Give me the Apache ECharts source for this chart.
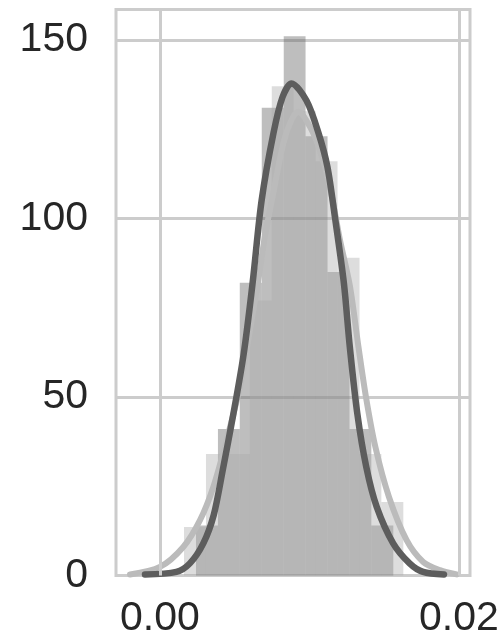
<!DOCTYPE html>
<html><head><meta charset="utf-8">
<script src="https://cdn.jsdelivr.net/npm/echarts@6/dist/echarts.min.js"></script>
<style>html,body{margin:0;padding:0;background:#fff}#c{width:502px;height:642px}</style>
</head><body><div id="c"></div>
<script>
// tick labels
const xTicks = [0.00, 0.02];
const yTicks = [0, 50, 100, 150];

// dark histogram: bin edges and density heights
const darkEdges = [0.00241, 0.00388, 0.00534, 0.00681, 0.00828, 0.00974, 0.01121, 0.01268, 0.01414, 0.01561];
const darkHeights = [14, 41, 82, 131, 151, 123, 85, 41, 14];

// light histogram: bin edges and density heights
const lightEdges = [0.00161, 0.00308, 0.00454, 0.00601, 0.00748, 0.00894, 0.01041, 0.01188, 0.01335, 0.01481, 0.01628];
const lightHeights = [13.6, 34, 34, 77, 137, 130, 116, 89, 34, 20.6];

// KDE curves
const darkKdeX = [-0.0010, 0.0011, 0.0020, 0.0029, 0.0036, 0.0042, 0.0049, 0.0056, 0.0062, 0.0068, 0.0076, 0.0082, 0.0088, 0.0098, 0.0106, 0.0112, 0.0117, 0.0123, 0.0127, 0.0132, 0.0138, 0.0145, 0.0156, 0.0167, 0.0176, 0.0190];
const darkKdeY = [0.3, 1.0, 3.4, 9, 17, 29.5, 45, 62, 82, 105, 124, 134, 137.8, 133, 124, 114.5, 100.5, 82, 64, 45.4, 30.4, 19.2, 9, 3.4, 1.0, 0.3];
const lightKdeX = [-0.0020, 0.0000, 0.00156, 0.00268, 0.00357, 0.00446, 0.00535, 0.00602, 0.00658, 0.00702, 0.00758, 0.00825, 0.00881, 0.00925, 0.01003, 0.0107, 0.01137, 0.01204, 0.01271, 0.01328, 0.01378, 0.01441, 0.01532, 0.0165, 0.01761, 0.01873, 0.01985];
const lightKdeY = [0.3, 2.4, 8, 15.5, 24.8, 37.9, 52.8, 68.7, 82.7, 95, 107, 121, 127.7, 129.9, 125.7, 119, 108.8, 94, 81, 64, 50, 36, 22, 9.9, 3.8, 1.5, 0.3];

const DARK = '#5d5d5d';
const LIGHT = '#bbbbbb';
const GRID = '#cccccc';
const TEXT = '#262626';
const FONT = 'Liberation Sans';

function bins(edges, heights) {
  return heights.map((h, i) => [edges[i], edges[i + 1], h]);
}
function pairs(xs, ys) { return xs.map((x, i) => [x, ys[i]]); }

function histItem(color) {
  return function (params, api) {
    const p0 = api.coord([api.value(0), api.value(2)]);
    const p1 = api.coord([api.value(1), 0]);
    return {
      type: 'rect',
      shape: { x: p0[0], y: p0[1], width: p1[0] - p0[0], height: p1[1] - p0[1] },
      style: { fill: color, opacity: 0.4 }
    };
  };
}

const chart = echarts.init(document.getElementById('c'), null, { renderer: 'canvas' });
chart.setOption({
  animation: false,
  backgroundColor: '#ffffff',
  grid: { left: 116, right: 32, top: 9.5, bottom: 66.5, show: true, borderColor: GRID, borderWidth: 3, backgroundColor: 'transparent' },
  xAxis: {
    type: 'value', min: -0.00294, max: 0.02074,
    axisLine: { show: false }, axisTick: { show: false }, splitLine: { show: false },
    axisLabel: { customValues: xTicks, formatter: v => v.toFixed(2), fontSize: 41, fontFamily: FONT, color: TEXT, margin: 23 }
  },
  yAxis: {
    type: 'value', min: 0, max: 158.5, interval: 50,
    axisLine: { show: false }, axisTick: { show: false },
    splitLine: { show: true, lineStyle: { color: GRID, width: 3 } },
    axisLabel: { showMaxLabel: false, formatter: v => (yTicks.indexOf(v) >= 0 ? String(v) : ''), fontSize: 41, fontFamily: FONT, color: TEXT, margin: 28 }
  },
  series: [
    {
      type: 'line', data: [], z: 1, silent: true,
      markLine: {
        silent: true, symbol: ['none', 'none'], animation: false,
        label: { show: false },
        lineStyle: { color: GRID, width: 3, type: 'solid' },
        data: xTicks.map(v => ({ xAxis: v }))
      }
    },
    { type: 'custom', z: 2, renderItem: histItem(DARK), data: bins(darkEdges, darkHeights), encode: { x: [0, 1], y: 2 }, silent: true },
    { type: 'custom', z: 2, renderItem: histItem('#aaaaaa'), data: bins(lightEdges, lightHeights), encode: { x: [0, 1], y: 2 }, silent: true },
    { type: 'line', z: 3, data: pairs(lightKdeX, lightKdeY), smooth: 0.3, showSymbol: false, lineStyle: { color: LIGHT, width: 6, cap: 'round', join: 'round' }, silent: true },
    { type: 'line', z: 4, data: pairs(darkKdeX, darkKdeY), smooth: 0.3, showSymbol: false, lineStyle: { color: DARK, width: 6.5, cap: 'round', join: 'round' }, silent: true }
  ]
});
</script></body></html>
